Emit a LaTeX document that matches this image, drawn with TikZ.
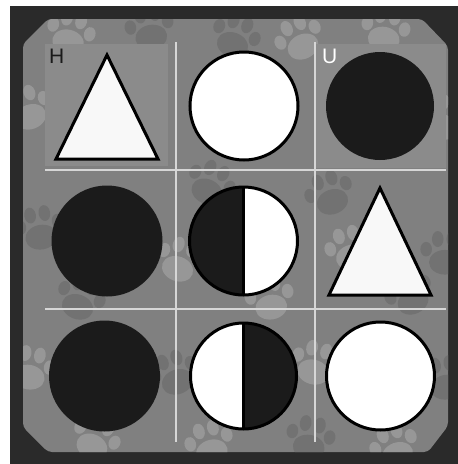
\documentclass[tikz,border=0pt]{standalone}
\usepackage{fontspec}
\setmainfont{Liberation Sans}
\definecolor{framec}{HTML}{2A2A2A}
\definecolor{panelc}{HTML}{808080}
\definecolor{cellhl}{HTML}{8B8B8B}
\definecolor{gridc}{HTML}{D6D6D6}
\definecolor{inkc}{HTML}{1B1B1B}
\definecolor{pawdark}{HTML}{727272}
\definecolor{pawlight}{HTML}{979797}
\definecolor{trifill}{HTML}{F8F8F8}
\newcommand\pawprint[4]{%
  \begin{scope}[shift={(#1,#2)},rotate=#3,scale=1.45]
    \fill[#4] (0,5) ellipse[x radius=11pt,y radius=8.5pt];
    \fill[#4] (-13,-4) ellipse[x radius=4pt,y radius=5pt];
    \fill[#4] (-5,-11) ellipse[x radius=4pt,y radius=5.5pt];
    \fill[#4] (5,-11) ellipse[x radius=4pt,y radius=5.5pt];
    \fill[#4] (13,-4) ellipse[x radius=4pt,y radius=5pt];
  \end{scope}}
\tikzset{
  gridline/.style={draw=gridc, line width=1.1pt},
  outlined/.style={draw=black, line width=3pt},
  blackdisc/.style={fill=inkc},
  celllabel/.style={font=\fontsize{21}{21}\selectfont, inner sep=0pt, anchor=north west}
}
\begin{document}
\begin{tikzpicture}[x=1pt,y=-1pt]
\useasboundingbox (0,0) rectangle (458,464);
\fill[white] (0,0) rectangle (458,464);
% dark frame
\fill[framec] (10,6) rectangle (458,464);
% gray panel with cut corners
\path[fill=panelc, rounded corners=4pt] (48,19) -- (422,19) -- (448,46) -- (448,426) -- (428,452) -- (48,452) -- (23,427) -- (23,44) -- cycle;
% paw prints
\begin{scope}
\clip[rounded corners=4pt] (48,19) -- (422,19) -- (448,46) -- (448,426) -- (428,452) -- (48,452) -- (23,427) -- (23,44) -- cycle;
\pawprint{235}{38}{-20}{pawdark}
\pawprint{300}{40}{25}{pawlight}
\pawprint{385}{32}{-10}{pawlight}
\pawprint{150}{30}{10}{pawdark}
\pawprint{70}{35}{-15}{pawlight}
\pawprint{28}{110}{20}{pawlight}
\pawprint{445}{120}{-20}{pawlight}
\pawprint{210}{185}{-25}{pawdark}
\pawprint{330}{195}{20}{pawdark}
\pawprint{40}{230}{10}{pawdark}
\pawprint{180}{262}{-20}{pawlight}
\pawprint{350}{250}{15}{pawlight}
\pawprint{445}{255}{0}{pawdark}
\pawprint{80}{300}{-20}{pawdark}
\pawprint{270}{300}{10}{pawlight}
\pawprint{410}{295}{25}{pawdark}
\pawprint{30}{370}{-10}{pawlight}
\pawprint{175}{375}{20}{pawdark}
\pawprint{315}{365}{-15}{pawlight}
\pawprint{445}{380}{10}{pawdark}
\pawprint{95}{440}{-25}{pawlight}
\pawprint{210}{445}{15}{pawlight}
\pawprint{310}{440}{-10}{pawdark}
\pawprint{395}{448}{20}{pawlight}
\end{scope}
% highlighted cells
\fill[cellhl] (45,44) rectangle (168,166);
\fill[cellhl] (316,44) rectangle (446,168);
% grid lines
\draw[gridline] (176,42) -- (176,442);
\draw[gridline] (315,42) -- (315,442);
\draw[gridline] (45,170) -- (446,170);
\draw[gridline] (45,309) -- (446,309);
% row 1
\draw[outlined, fill=trifill, line join=miter] (107,55) -- (158,159) -- (56,159) -- cycle;
\node[celllabel, text=inkc] (lh) at (49,49) {H};
\draw[outlined, fill=white] (244,106) circle[radius=54pt];
\fill[blackdisc] (380,106) circle[radius=54pt];
\node[celllabel, text=white, font=\fontsize{21}{21}\selectfont\addfontfeatures{FakeBold=-0.3}] (lu) at (322,49) {U};
% row 2
\fill[blackdisc] (107,241) circle[radius=55.5pt];
\begin{scope}
\clip (180,180) rectangle (243.5,305);
\fill[inkc] (243.5,241) circle[radius=54pt];
\end{scope}
\begin{scope}
\clip (243.5,180) rectangle (305,305);
\fill[white] (243.5,241) circle[radius=54pt];
\end{scope}
\draw[black, line width=2.5pt] (243.5,187) -- (243.5,295);
\draw[outlined] (243.5,241) circle[radius=54pt];
\draw[outlined, fill=trifill, line join=miter] (380,188) -- (431,295) -- (329,295) -- cycle;
% row 3
\fill[blackdisc] (104.5,376) circle[radius=55.5pt];
\begin{scope}
\clip (180,315) rectangle (243.5,440);
\fill[white] (243.5,376) circle[radius=53pt];
\end{scope}
\begin{scope}
\clip (243.5,315) rectangle (305,440);
\fill[inkc] (243.5,376) circle[radius=53pt];
\end{scope}
\draw[black, line width=2.5pt] (243.5,323) -- (243.5,429);
\draw[outlined] (243.5,376) circle[radius=53pt];
\draw[outlined, fill=white] (380.5,376) circle[radius=54pt];
\end{tikzpicture}
\end{document}
